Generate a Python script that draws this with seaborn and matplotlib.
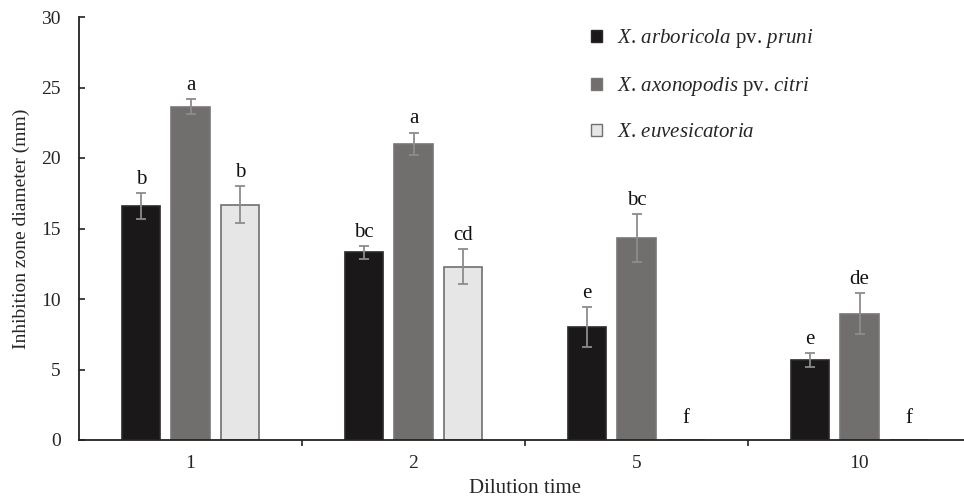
import matplotlib
matplotlib.use("Agg")
import matplotlib.pyplot as plt
from matplotlib.patches import Patch
import seaborn as sns
import pandas as pd

# Inhibition zone diameters (mm) per dilution and strain, with error bars and significance letters
dilutions = ["1", "2", "5", "10"]
strains = [
    r"$\it{X}$. $\it{arboricola}$ pv. $\it{pruni}$",
    r"$\it{X}$. $\it{axonopodis}$ pv. $\it{citri}$",
    r"$\it{X}$. $\it{euvesicatoria}$",
]
arboricola_mean = [16.6, 13.3, 8.0, 5.65]
axonopodis_mean = [23.65, 21.0, 14.3, 8.95]
euvesicatoria_mean = [16.7, 12.3, 0.0, 0.0]
arboricola_err = [0.9, 0.45, 1.4, 0.5]
axonopodis_err = [0.5, 0.8, 1.7, 1.45]
euvesicatoria_err = [1.3, 1.25, 0.0, 0.0]
arboricola_sig = ["b", "bc", "e", "e"]
axonopodis_sig = ["a", "a", "bc", "de"]
euvesicatoria_sig = ["b", "cd", "f", "f"]

means = [arboricola_mean, axonopodis_mean, euvesicatoria_mean]
errs = [arboricola_err, axonopodis_err, euvesicatoria_err]
sigs = [arboricola_sig, axonopodis_sig, euvesicatoria_sig]

rows = []
for s, m in zip(strains, means):
    for d, v in zip(dilutions, m):
        rows.append({"Dilution time": d, "Strain": s, "Diameter": v})
df = pd.DataFrame(rows)

sns.set_style("ticks")
plt.rcParams["font.family"] = ["Liberation Serif", "DejaVu Serif"]
plt.rcParams["mathtext.fontset"] = "custom"
plt.rcParams["mathtext.rm"] = "Liberation Serif"
plt.rcParams["mathtext.it"] = "Liberation Serif:italic"

fill_colors = ["#1a1818", "#726e6d", "#e6e6e6"]
edge_colors = ["#2a2828", "#7a7675", "#707070"]

fig = plt.figure(figsize=(9.64, 5.01), dpi=100)
ax = fig.add_axes([79 / 964, 61 / 501, 892 / 964, 423 / 501])

sns.barplot(
    data=df, x="Dilution time", y="Diameter", hue="Strain",
    order=dilutions, hue_order=strains, palette=fill_colors,
    width=0.667, gap=0.23, errorbar=None, legend=False, ax=ax,
)

# bars come out grouped by hue, in category order
for i in range(len(strains)):
    for j in range(len(dilutions)):
        p = ax.patches[i * len(dilutions) + j]
        p.set_edgecolor(edge_colors[i])
        p.set_linewidth(1.2)
        xc = p.get_x() + p.get_width() / 2
        h = p.get_height()
        e = errs[i][j]
        if e > 0:
            ax.errorbar(xc, h, yerr=e, fmt="none", ecolor="#8c8c8c",
                        elinewidth=1.3, capsize=3.5, capthick=1.3, zorder=3)
        ytxt = h + e + 0.3 if h > 0 else 0.85
        ax.text(xc, ytxt, sigs[i][j], ha="center", va="bottom",
                fontsize=15, color="#111111")

ax.set_ylim(0, 30)
ax.set_xlim(-0.5, 3.5)
ax.set_yticks([0, 5, 10, 15, 20, 25, 30])
ax.set_xticks([0.5, 1.5, 2.5], minor=True)
ax.tick_params(axis="x", which="major", length=0, labelsize=14, pad=11)
ax.tick_params(axis="x", which="minor", length=4, width=1.2, color="#222222")
ax.tick_params(axis="y", direction="in", length=4, width=1.2, labelsize=14,
               pad=13, color="#222222")
for sp in ["top", "right"]:
    ax.spines[sp].set_visible(False)
for sp in ["left", "bottom"]:
    ax.spines[sp].set_linewidth(1.3)
    ax.spines[sp].set_color("#222222")

ax.set_xlabel("Dilution time", fontsize=15)
ax.set_ylabel("Inhibition zone diameter (mm)", fontsize=14)
ax.xaxis.set_label_coords(0.5, -0.092)
ax.yaxis.set_label_coords(-0.055, 0.5)

handles = [Patch(facecolor=fc, edgecolor=ec, linewidth=1.0)
           for fc, ec in zip(fill_colors, edge_colors)]
ax.legend(handles, strains, loc="upper left", bbox_to_anchor=(0.553, 1.02),
          frameon=False, fontsize=15, handlelength=0.55, handleheight=0.55,
          handletextpad=0.7, labelspacing=1.2)

fig.savefig("out.png", dpi=100)
